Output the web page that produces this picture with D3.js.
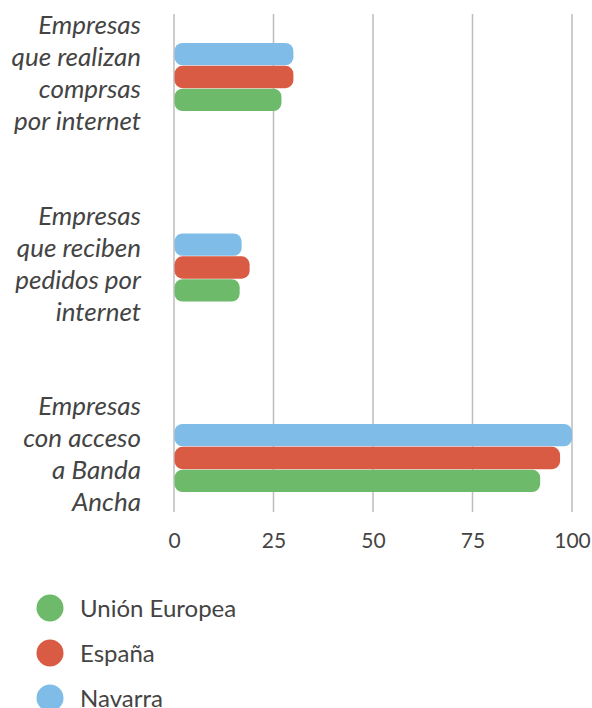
<!DOCTYPE html>
<html>
<head>
<meta charset="utf-8">
<script src="https://d3js.org/d3.v7.min.js"></script>
<style>
  body { margin: 0; background: #fff; }
  text { font-family: Lato, "Open Sans", sans-serif; }
</style>
</head>
<body>
<div id="chart"></div>
<script>
// chart data
var categories = ["compras", "pedidos", "banda"];
var categoryLines = [
  ["Empresas", "que realizan", "comprsas", "por internet"],
  ["Empresas", "que reciben", "pedidos por", "internet"],
  ["Empresas", "con acceso", "a Banda", "Ancha"]
];
var seriesNames = ["Unión Europea", "España", "Navarra"];
var ueValues = [27, 16.5, 92];
var espanaValues = [30, 19, 97];
var navarraValues = [30, 17, 100];
var tickValues = [0, 25, 50, 75, 100];

var colors = {"Unión Europea": "#6dba6a", "España": "#d95b44", "Navarra": "#7fbde8"};

// dimensions
var width = 592, height = 708;
var plot = {left: 174, right: 572, top: 14, bottom: 512};

var svg = d3.select("#chart")
    .append("svg")
    .attr("width", width)
    .attr("height", height);

var data = categories.map(function(c, i) {
  return {
    cat: c,
    lines: categoryLines[i],
    values: [
      {name: "Navarra", value: navarraValues[i]},
      {name: "España", value: espanaValues[i]},
      {name: "Unión Europea", value: ueValues[i]}
    ]
  };
});

// scales
var x = d3.scaleLinear()
    .domain([0, 100])
    .range([plot.left, plot.right]);

var y = d3.scaleBand()
    .domain(categories)
    .range([43, 492])
    .paddingInner(0.643)
    .paddingOuter(0);

var ySub = d3.scaleBand()
    .domain(["Navarra", "España", "Unión Europea"])
    .range([0, y.bandwidth()])
    .paddingInner(0.02);

// vertical grid lines
svg.append("g")
  .selectAll("line")
  .data(tickValues)
  .enter().append("line")
    .attr("x1", function(d) { return x(d); })
    .attr("x2", function(d) { return x(d); })
    .attr("y1", plot.top)
    .attr("y2", plot.bottom)
    .attr("stroke", "#bdbdbd")
    .attr("stroke-width", 1.5);

// x axis labels
var xAxis = svg.append("g")
    .attr("transform", "translate(0," + 533 + ")")
    .call(d3.axisBottom(x).tickValues(tickValues).tickSize(0).tickPadding(0));
xAxis.select(".domain").remove();
xAxis.selectAll("text")
    .attr("dy", "0.72em")
    .attr("font-size", 21)
    .attr("font-family", "Lato, sans-serif")
    .attr("fill", "#444");

// bars
var groups = svg.append("g")
  .selectAll("g")
  .data(data)
  .enter().append("g")
    .attr("transform", function(d) { return "translate(0," + y(d.cat) + ")"; });

groups.selectAll("rect")
  .data(function(d) { return d.values; })
  .enter().append("rect")
    .attr("x", x(0) + 0.5)
    .attr("y", function(d) { return ySub(d.name); })
    .attr("width", function(d) { return x(d.value) - x(0) - 0.5; })
    .attr("height", ySub.bandwidth())
    .attr("rx", 8)
    .attr("ry", 8)
    .attr("fill", function(d) { return colors[d.name]; });

// category labels
var labels = svg.append("g")
  .selectAll("text")
  .data(data)
  .enter().append("text")
    .attr("text-anchor", "end")
    .attr("font-size", 26)
    .attr("font-style", "italic")
    .attr("fill", "#444")
    .attr("transform", function(d) {
      var cy = y(d.cat) + y.bandwidth() / 2 - 5;
      return "translate(141," + (cy - 38) + ")";
    });

labels.selectAll("tspan")
  .data(function(d) { return d.lines; })
  .enter().append("tspan")
    .attr("x", 0)
    .attr("y", function(d, i) { return i * 32; })
    .text(function(d) { return d; });

// legend
var legend = svg.append("g")
  .selectAll("g")
  .data(seriesNames)
  .enter().append("g")
    .attr("transform", function(d, i) { return "translate(50," + (608 + i * 45) + ")"; });

legend.append("circle")
    .attr("r", 13.5)
    .attr("fill", function(d) { return colors[d]; });

legend.append("text")
    .attr("x", 30)
    .attr("dy", "0.36em")
    .attr("font-size", 24)
    .attr("fill", "#444")
    .text(function(d) { return d; });
</script>
</body>
</html>
